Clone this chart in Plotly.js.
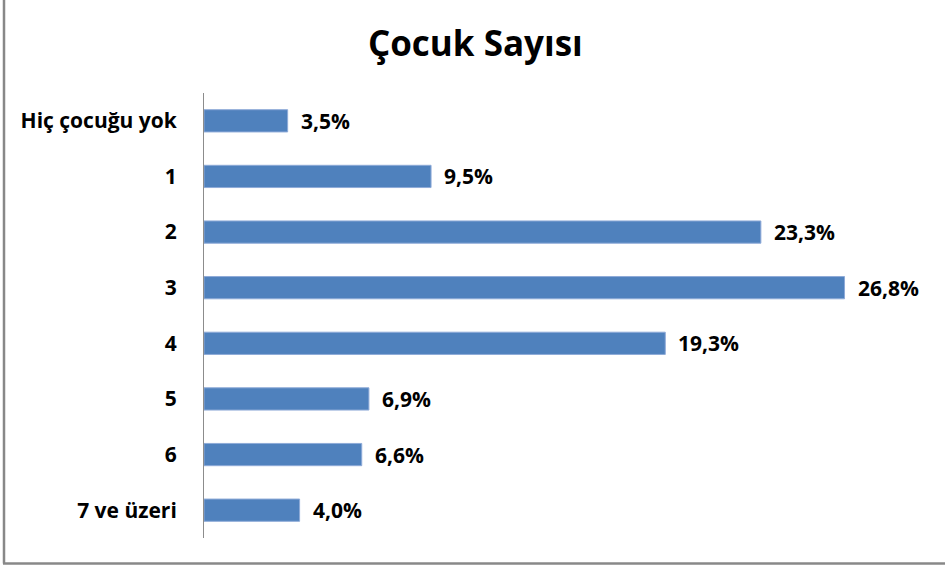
<!DOCTYPE html>
<html>
<head>
<meta charset="utf-8">
<script src="https://cdn.plot.ly/plotly-3.0.1.min.js"></script>
<style>html,body{margin:0;padding:0;background:#fff;}#chart{width:945px;height:567px;}</style>
</head>
<body>
<div id="chart"></div>
<script>
const categories = ["Hiç çocuğu yok", "1", "2", "3", "4", "5", "6", "7 ve üzeri"];
const values = [3.5, 9.5, 23.3, 26.8, 19.3, 6.9, 6.6, 4.0];
const chartTitle = "Çocuk Sayısı";

const FONT = "'Open Sans', Lato, sans-serif";
const W = 945, H = 567;
const M = {l: 204, r: 24, t: 93, b: 29};
const pw = W - M.l - M.r, ph = H - M.t - M.b;
const px = x => (x - M.l) / pw;
const py = y => (H - M.b - y) / ph;

const trace = {
  type: 'bar',
  orientation: 'h',
  y: categories,
  x: values,
  marker: {color: '#4F81BD', line: {color: '#8EAAD8', width: 1}},
  hoverinfo: 'none',
  width: 0.4
};

const annotations = categories.map((c, i) => ({
  x: values[i], y: i, xref: 'x', yref: 'y',
  text: values[i].toFixed(1).replace('.', ',') + '%',
  showarrow: false, xanchor: 'left', yanchor: 'middle', xshift: 11,
  font: {family: FONT, size: 21, color: '#000', weight: 'bold'}
}));

const layout = {
  width: W, height: H,
  margin: M,
  paper_bgcolor: '#fff', plot_bgcolor: '#fff',
  showlegend: false,
  separators: ',.',
  title: {
    text: '<b>' + chartTitle + '</b>',
    font: {family: FONT, size: 35, color: '#000'},
    x: 0.503, xref: 'container', xanchor: 'center',
    y: 1 - 44 / H, yref: 'container', yanchor: 'middle'
  },
  xaxis: {range: [0, 30], visible: false, showgrid: false, zeroline: false, fixedrange: true},
  yaxis: {
    type: 'category', categoryorder: 'array', categoryarray: categories,
    range: [categories.length - 0.5, -0.5], showline: true, linecolor: '#8C8C8C', linewidth: 1,
    ticks: '', showgrid: false, zeroline: false, ticklabelstandoff: 22,
    tickfont: {family: FONT, size: 21, color: '#000', weight: 'bold'}
  },
  annotations: annotations,
  shapes: [
    {type: 'line', xref: 'paper', yref: 'paper', x0: px(4), x1: px(4), y0: py(0), y1: py(563.5), line: {color: '#888888', width: 2.5}},
    {type: 'line', xref: 'paper', yref: 'paper', x0: px(3), x1: px(945), y0: py(563.5), y1: py(563.5), line: {color: '#888888', width: 2.5}}
  ]
};

Plotly.newPlot('chart', [trace], layout, {displayModeBar: false, staticPlot: true});
</script>
</body>
</html>
